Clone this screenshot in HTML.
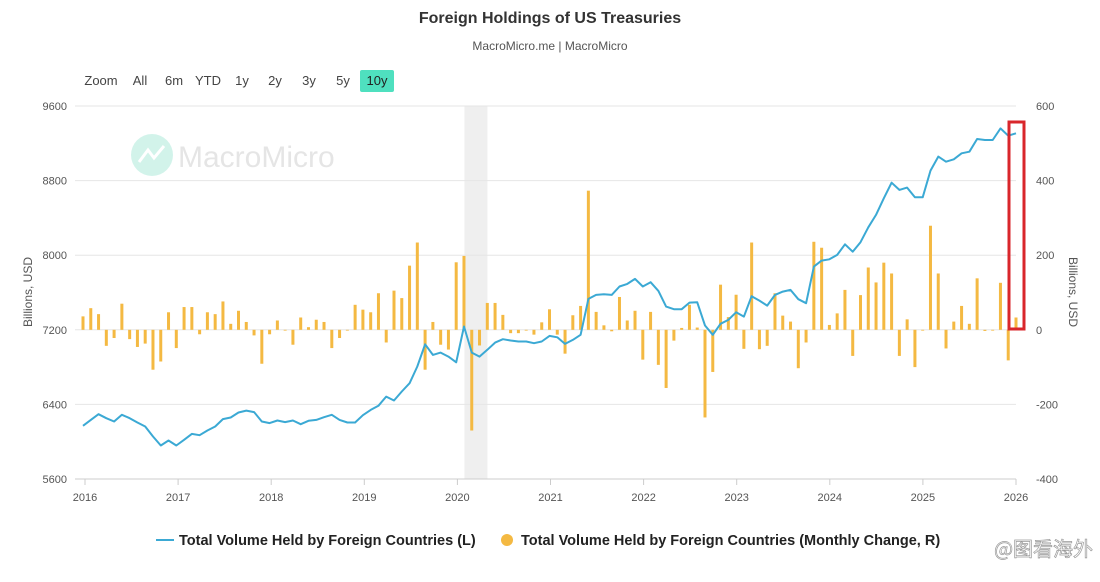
<!DOCTYPE html>
<html><head><meta charset="utf-8">
<style>
body{margin:0;background:#fff;font-family:"Liberation Sans","Noto Sans CJK SC",sans-serif;}
#wrap{position:relative;width:1100px;height:582px;overflow:hidden;background:#fff;}
.btn{position:absolute;top:70px;height:22px;line-height:22px;font-size:13px;color:#444;text-align:center;}
</style></head>
<body>
<div id="wrap">
<div style="position:absolute;top:10px;left:0;width:1100px;text-align:center;font-size:16px;font-weight:bold;color:#333;">Foreign Holdings of US Treasuries</div>
<div style="position:absolute;top:39px;left:0;width:1100px;text-align:center;font-size:12px;color:#555;">MacroMicro.me | MacroMicro</div>
<div class="btn" style="left:80px;width:42px;">Zoom</div>
<div class="btn" style="left:128px;width:24px;">All</div>
<div class="btn" style="left:161px;width:26px;">6m</div>
<div class="btn" style="left:193px;width:30px;">YTD</div>
<div class="btn" style="left:231px;width:22px;">1y</div>
<div class="btn" style="left:264px;width:22px;">2y</div>
<div class="btn" style="left:298px;width:22px;">3y</div>
<div class="btn" style="left:332px;width:22px;">5y</div>
<div class="btn" style="left:360px;width:34px;background:#4fe0bf;border-radius:2px;color:#222;">10y</div>
<svg id="svg" width="1100" height="582" style="position:absolute;left:0;top:0;"></svg>
</div>
<script>
const categories=[];for(let i=0;i<121;i++){const m=(11+i)%12,y=2015+Math.floor((11+i)/12);categories.push(y+'-'+String(m+1).padStart(2,'0'));}
const holdings=[6170,6234,6295,6252,6217,6288,6252,6206,6163,6056,5959,6013,5959,6020,6084,6070,6120,6163,6242,6260,6313,6334,6317,6217,6199,6227,6210,6227,6188,6224,6234,6263,6288,6234,6206,6206,6284,6341,6385,6484,6442,6538,6627,6806,7045,6931,6956,6913,6852,7235,
6956,6913,6985,7063,7099,7085,7074,7074,7056,7074,7135,7120,7049,7092,7146,7531,7574,7581,7574,7664,7692,7746,7664,7710,7617,7449,7421,7421,7492,7496,7246,7146,7264,7306,7388,7342,
7560,7513,7460,7574,7610,7628,7528,7485,7878,7942,7956,8003,8117,8038,8139,8299,8432,8610,8778,8700,8725,8621,8621,8907,9057,9003,9028,9093,9110,9246,9235,9235,9360,9282,9307];
const monthlyChange=[36,58,42,-43,-22,70,-25,-46,-37,-107,-85,47,-49,61,61,-12,47,42,76,16,51,21,-15,-91,-12,25,0,-40,33,7,27,21,-49,-22,0,67,54,47,98,-34,105,85,172,234,-107,21,-40,-53,181,198,
-270,-42,72,72,40,-9,-9,0,-13,20,55,-13,-64,39,64,373,48,12,-4,88,25,51,-80,48,-94,-156,-29,5,67,6,-235,-113,121,34,94,-51,
234,-52,-43,98,38,22,-103,-34,236,220,13,44,107,-70,93,167,127,180,151,-70,28,-100,0,279,151,-50,22,64,16,138,-3,0,126,-82,33];
const leftTicks=[5600,6400,7200,8000,8800,9600];
const rightTicks=[-400,-200,0,200,400,600];
const yearTicks=[2016,2017,2018,2019,2020,2021,2022,2023,2024,2025,2026];

const NS='http://www.w3.org/2000/svg',svg=document.getElementById('svg');
const X0=83,X1=1016,T=106,B=479;
const xi=i=>X0+i*(X1-X0)/(categories.length-1);
const xYear=y=>85+(y-2016)*(1016-85)/10;
const yL=v=>B-(v-5600)/(9600-5600)*(B-T);
const yR=v=>B-(v+400)/1000*(B-T);
function mk(t,a,p){const e=document.createElementNS(NS,t);for(const k in a)e.setAttribute(k,a[k]);(p||svg).appendChild(e);return e;}

const band=mk('rect',{x:xYear(2020)+7,y:T,width:23,height:B-T,fill:'#efefef'});


const wm=mk('g',{opacity:0.25});


mk('circle',{cx:152,cy:155,r:21,fill:'#4fd1b0'},wm);
mk('path',{d:'M139 162 L148 150 L154 158 L164 146',stroke:'#fff','stroke-width':3,fill:'none'},wm);
const wt=mk('text',{x:178,y:167,'font-size':30,fill:'#999','font-family':'Liberation Sans, sans-serif'},wm);wt.textContent='MacroMicro';

leftTicks.forEach((v,k)=>{
  const g=mk('line',{x1:75,x2:1016,y1:yL(v),y2:yL(v),stroke:k==0?'#ccc':'#e6e6e6','stroke-width':1});
  
  
  const t=mk('text',{x:67,y:yL(v)+4,'text-anchor':'end','font-size':11,fill:'#555'});t.textContent=v;
  
  
});
rightTicks.forEach(v=>{
  const t=mk('text',{x:1036,y:yR(v)+4,'font-size':11,fill:'#555'});t.textContent=v;
  
  
});
yearTicks.forEach(y=>{
  const l=mk('line',{x1:xYear(y),x2:xYear(y),y1:B,y2:B+6,stroke:'#ccc'});
  
  
  const t=mk('text',{x:xYear(y),y:B+22,'text-anchor':'middle','font-size':11,fill:'#555'});t.textContent=y;
  
  
});
const lt=mk('text',{transform:'translate(32,292) rotate(-90)','text-anchor':'middle','font-size':12,fill:'#555'});lt.textContent='Billions, USD';


const rt=mk('text',{transform:'translate(1069,292) rotate(90)','text-anchor':'middle','font-size':12,fill:'#555'});rt.textContent='Billions, USD';



monthlyChange.forEach((v,i)=>{
  const y0=yR(0),y1=yR(v);
  const r=mk('rect',{x:xi(i)-1.5,y:Math.min(y0,y1),width:3,height:Math.max(0.8,Math.abs(y1-y0)),fill:'#f4b942'});
  
  
});
const pl=mk('polyline',{points:holdings.map((v,i)=>xi(i).toFixed(1)+','+yL(v).toFixed(1)).join(' '),fill:'none',stroke:'#3ba9d4','stroke-width':2,'stroke-linejoin':'round'});


const hb=mk('rect',{x:1009,y:122,width:15,height:207,fill:'none',stroke:'#d9262b','stroke-width':3});



const lg=mk('g',{});


const le1=mk('g',{},lg);


mk('line',{x1:156,x2:174,y1:540,y2:540,stroke:'#3ba9d4','stroke-width':2},le1);
const l1=mk('text',{x:179,y:545,'font-size':14.5,'font-weight':'bold',fill:'#222'},le1);l1.textContent='Total Volume Held by Foreign Countries (L)';
const le2=mk('g',{},lg);


mk('circle',{cx:507,cy:540,r:6,fill:'#f4b942'},le2);
const l2=mk('text',{x:521,y:545,'font-size':14.5,'font-weight':'bold',fill:'#222'},le2);l2.textContent='Total Volume Held by Foreign Countries (Monthly Change, R)';
const wb=mk('text',{x:1093,y:556,'text-anchor':'end','font-size':20,fill:'#fff',stroke:'#999','stroke-width':0.7,'font-family':'Noto Sans CJK SC, sans-serif'});wb.textContent='@图看海外';


</script>
</body></html>
